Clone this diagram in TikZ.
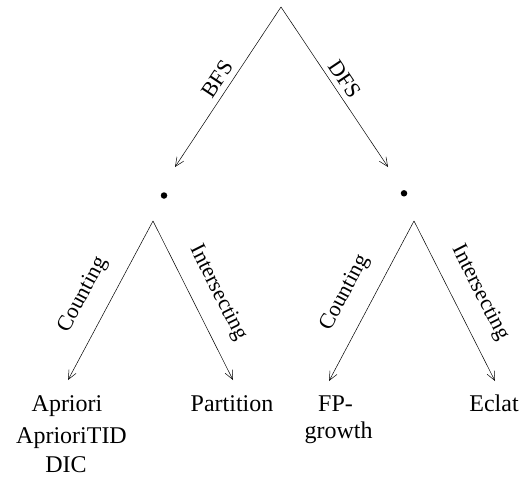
\documentclass[tikz,border=0pt]{standalone}
\usepackage{fontspec}
\setmainfont{Liberation Serif}
\usetikzlibrary{arrows.meta}
\begin{document}
\begin{tikzpicture}[x=1pt,y=-1pt,
  edge/.style={draw, line width=0.5pt, -{Straight Barb[length=9pt,width=8pt,line width=0.5pt]}},
  lbl/.style={font=\fontsize{22}{24}\selectfont, inner sep=0pt},
  leaf/.style={font=\fontsize{24}{28}\selectfont, inner sep=0pt, anchor=base},
  dotn/.style={circle, fill=black, inner sep=0pt, minimum size=6.5pt}]
\useasboundingbox (0,0) rectangle (527,493);
\coordinate (root) at (281,7);
\coordinate (bfsend) at (175,167);
\coordinate (dfsend) at (388,167);
\node[dotn] (bdot) at (164,195.5) {};
\node[dotn] (ddot) at (404,193.3) {};
\coordinate (bapex) at (153,221);
\coordinate (dapex) at (414,221);
\coordinate (c1) at (68,380);
\coordinate (i1) at (233,380);
\coordinate (c2) at (329,381);
\coordinate (i2) at (495,381);
\draw[edge] (root) -- (bfsend);
\draw[edge] (root) -- (dfsend);
\draw[edge] (bapex) -- (c1);
\draw[edge] (bapex) -- (i1);
\draw[edge] (dapex) -- (c2);
\draw[edge] (dapex) -- (i2);
\node[lbl, rotate=56.5] (lbfs) at (217,79) {BFS};
\node[lbl, rotate=-56.2] (ldfs) at (345,79) {DFS};
\node[lbl, rotate=61.9] (lc1) at (83,295) {Counting};
\node[lbl, rotate=-63.3] (li1) at (218,293) {Intersecting};
\node[lbl, rotate=62] (lc2) at (345,293) {Counting};
\node[lbl, rotate=-63] (li2) at (480,293) {Intersecting};
\node[leaf] (apriori) at (67,411.7) {Apriori};
\node[leaf] (aprioritid) at (71.5,443) {AprioriTID};
\node[leaf] (dic) at (66,472) {DIC};
\node[leaf] (partition) at (232,411.7) {Partition};
\node[leaf] (fp) at (335.5,411.7) {FP-};
\node[leaf] (growth) at (338.5,438.3) {growth};
\node[leaf] (eclat) at (494,411.7) {Eclat};
\end{tikzpicture}
\end{document}
